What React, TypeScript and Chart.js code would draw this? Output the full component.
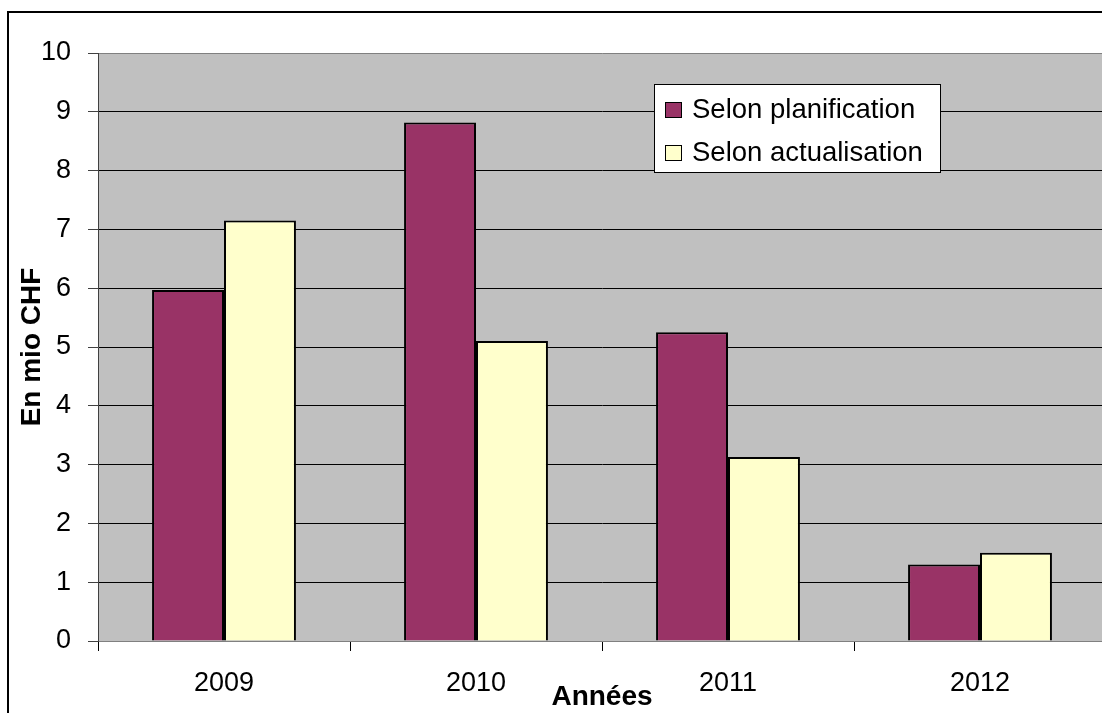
import React, { useEffect, useRef } from "react";
import { Chart, registerables } from "chart.js";

Chart.register(...registerables);

const categories = ["2009", "2010", "2011", "2012"];
const planification = [5.97, 8.82, 5.25, 1.3];
const actualisation = [7.15, 5.1, 3.13, 1.5];
const seriesNames = ["Selon planification", "Selon actualisation"];
const seriesColors = ["#993366", "#FFFFCC"];
const yTitle = "En mio CHF";
const xTitle = "Années";

const FONT = "'Liberation Sans', Arial, sans-serif";

const bgPlugin = {
  id: "bgPlugin",
  beforeDraw(chart: any) {
    const { ctx, chartArea } = chart;
    ctx.save();
    ctx.fillStyle = "#FFFFFF";
    ctx.fillRect(0, 0, chart.width, chart.height);
    ctx.fillStyle = "#C0C0C0";
    ctx.fillRect(chartArea.left, chartArea.top, chartArea.right - chartArea.left, chartArea.bottom - chartArea.top);
    ctx.strokeStyle = "#000";
    ctx.lineWidth = 2;
    ctx.beginPath();
    ctx.moveTo(8, chart.height + 5);
    ctx.lineTo(8, 12);
    ctx.lineTo(chart.width + 5, 12);
    ctx.stroke();
    ctx.restore();
  },
};

const legendPlugin = {
  id: "legendPlugin",
  afterDraw(chart: any) {
    const { ctx } = chart;
    ctx.save();
    ctx.fillStyle = "#FFFFFF";
    ctx.fillRect(654, 84, 286, 88);
    ctx.strokeStyle = "#000";
    ctx.lineWidth = 1;
    ctx.strokeRect(654.5, 84.5, 286, 88);
    const rows = [110, 153];
    seriesNames.forEach((name, i) => {
      const y = rows[i];
      ctx.fillStyle = seriesColors[i];
      ctx.fillRect(665, y - 8, 17, 16);
      ctx.strokeStyle = "#000";
      ctx.lineWidth = 1;
      ctx.strokeRect(665.5, y - 7.5, 16, 15);
      ctx.fillStyle = "#000";
      ctx.font = `27.5px ${FONT}`;
      ctx.textBaseline = "middle";
      ctx.textAlign = "left";
      ctx.fillText(name, 692, y);
    });
    ctx.restore();
  },
};

export default function App() {
  const ref = useRef<HTMLCanvasElement>(null);
  useEffect(() => {
    if (!ref.current) return;
    const chart = new Chart(ref.current, {
      type: "bar",
      data: {
        labels: categories,
        datasets: [
          {
            label: seriesNames[0],
            data: planification,
            backgroundColor: seriesColors[0],
            borderColor: "#000",
            borderWidth: 2,
            barPercentage: 1,
            categoryPercentage: 0.571,
          },
          {
            label: seriesNames[1],
            data: actualisation,
            backgroundColor: seriesColors[1],
            borderColor: "#000",
            borderWidth: 2,
            barPercentage: 1,
            categoryPercentage: 0.571,
          },
        ],
      },
      options: {
        animation: false,
        responsive: false,
        maintainAspectRatio: false,
        layout: { padding: { left: 0, top: 53, right: 4, bottom: 0 } },
        plugins: { legend: { display: false }, tooltip: { enabled: false } },
        scales: {
          x: {
            offset: true,
            grid: {
              offset: true,
              drawOnChartArea: false,
              drawTicks: true,
              tickLength: 10,
              tickColor: "#000",
            },
            border: { display: true, color: "#808080", width: 1 },
            ticks: {
              color: "#000",
              padding: 16,
              font: { family: FONT, size: 27 },
              maxRotation: 0,
            },
            title: {
              display: true,
              text: xTitle,
              color: "#000",
              font: { family: FONT, size: 28, weight: "bold", lineHeight: 1 },
              padding: { top: 0, bottom: 2 },
            },
            afterFit(scale: any) {
              scale.height = 72;
            },
          },
          y: {
            min: 0,
            max: 10,
            ticks: {
              stepSize: 1,
              color: "#000",
              padding: 17,
              font: { family: FONT, size: 27 },
            },
            grid: {
              color: (c: any) => (c.tick && (c.tick.value === 0 || c.tick.value === 10) ? "#808080" : "#000"),
              tickColor: "#404040",
              tickLength: 10,
              lineWidth: 1,
            },
            border: { display: true, color: "#404040", width: 1 },
            title: {
              display: true,
              text: yTitle,
              color: "#000",
              font: { family: FONT, size: 28, weight: "bold", lineHeight: 1 },
              padding: { top: 18, bottom: 0 },
            },
            afterFit(scale: any) {
              scale.width = 98;
            },
          },
        },
      },
      plugins: [bgPlugin, legendPlugin],
    });
    return () => chart.destroy();
  }, []);
  return (
    <div style={{ position: "fixed", left: 0, top: 0, width: 1102, height: 713, overflow: "hidden", background: "#fff" }}>
      <canvas ref={ref} width={1110} height={713} style={{ display: "block", width: 1110, height: 713 }} />
    </div>
  );
}
